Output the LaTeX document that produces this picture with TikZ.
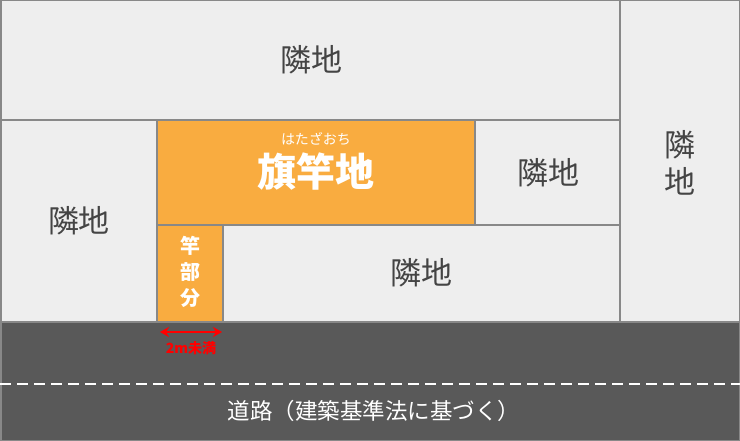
\documentclass[tikz,border=0pt]{standalone}
\usepackage{fontspec}
\setmainfont{Noto Sans CJK JP}
\usetikzlibrary{arrows.meta}
\definecolor{neighbor}{HTML}{EEEEEE}
\definecolor{lotedge}{HTML}{888888}
\definecolor{flag}{HTML}{F9AC40}
\definecolor{road}{HTML}{595959}
\definecolor{labelgray}{HTML}{444444}
\tikzset{
  plot/.style={fill=neighbor, draw=lotedge, line width=1.5pt},
  flagplot/.style={fill=flag, draw=lotedge, line width=1.5pt},
  plotname/.style={text=labelgray, font=\fontsize{31}{37}\selectfont, inner sep=0pt, align=center},
  flagname/.style={text=white, inner sep=0pt, align=center}
}
\begin{document}
\begin{tikzpicture}[x=1pt,y=-1pt]
		\useasboundingbox (0,0) rectangle (740,441);
		%Road
		\filldraw [fill=road, draw=lotedge, line width=1.5pt] (0.75,322) rectangle (739.25,440.25);
		\draw [white, line width=2pt, dash pattern=on 11pt off 6pt] (0,384) -- (740,384);
		%Neighbouring plots
		\filldraw [plot] (0.75,0.75) rectangle (620,120);
		\filldraw [plot] (620,0.75) rectangle (739.25,322);
		\filldraw [plot] (0.75,120) rectangle (157,322);
		\filldraw [plot] (475,120) rectangle (620,225);
		\filldraw [plot] (223,225) rectangle (620,322);
		%Flag lot and pole
		\filldraw [flagplot] (157,120) rectangle (475,225);
		\filldraw [flagplot] (157,225) rectangle (223,322);
		%Width arrow
		\coordinate (poleL) at (160,332);
		\coordinate (poleR) at (222,332);
		\draw [{Stealth[length=9pt,width=10pt]}-{Stealth[length=9pt,width=10pt]}, red, line width=2.5pt] (poleL) -- (poleR);
		%Labels
		\node [plotname] (topN) at (311,60) {隣地};
		\node [plotname] (rightN) at (680,163) {隣\\地};
		\node [plotname] (leftN) at (79,221) {隣地};
		\node [plotname] (midN) at (548,173) {隣地};
		\node [plotname] (lowN) at (421,273) {隣地};
		\node [flagname, font=\fontsize{14}{16}\selectfont] (ruby) at (316,139) {はたざおち};
		\node [flagname, font=\bfseries\fontsize{39}{42}\selectfont] (flagN) at (316,172) {旗竿地};
		\node [flagname, font=\bfseries\fontsize{20}{26}\selectfont] (poleN) at (190,272) {竿\\部\\分};
		\node [text=red, inner sep=0pt, font=\bfseries\fontsize{14}{16}\selectfont] (width) at (191,348) {2m未満};
		\node [text=white, inner sep=0pt, font=\fontsize{22.5}{26}\selectfont] (roadN) at (374,411) {道路（建築基準法に基づく）};
\end{tikzpicture}
\end{document}
